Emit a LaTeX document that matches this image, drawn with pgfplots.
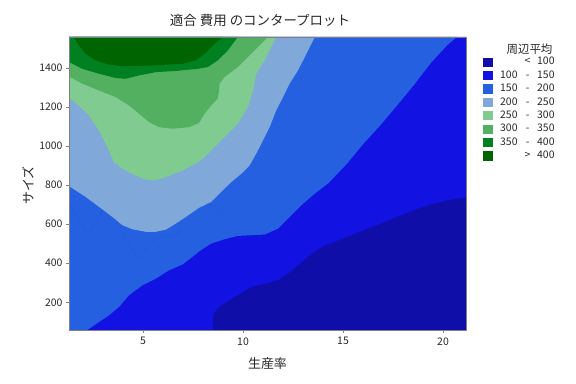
\documentclass[border=0pt]{standalone}
\usepackage{pgfplots}
\pgfplotsset{compat=1.18}
\usepackage{fontspec}
\setmainfont{Noto Sans CJK JP}
\definecolor{c0}{RGB}{16,14,168}
\definecolor{c1}{RGB}{18,18,226}
\definecolor{c2}{RGB}{36,96,224}
\definecolor{c3}{RGB}{128,168,216}
\definecolor{c4}{RGB}{128,204,144}
\definecolor{c5}{RGB}{82,176,96}
\definecolor{c6}{RGB}{0,128,32}
\definecolor{c7}{RGB}{0,100,0}
\definecolor{frame}{RGB}{128,128,128}
\definecolor{txt}{RGB}{40,40,40}
\newcommand{\lgent}[3]{\makebox[17bp][r]{#1}\makebox[20bp]{#2}\makebox[17bp][r]{#3}}
\begin{document}
\begin{tikzpicture}
\path[use as bounding box] (-69bp,-54bp) rectangle (507bp,330bp);
\begin{axis}[
  scale only axis, width=397bp, height=293bp,
  xmin=1.3, xmax=21.15, ymin=58, ymax=1559,
  axis on top,
  xtick={5,10,15,20}, ytick={200,400,600,800,1000,1200,1400},
  xtick pos=left, ytick pos=left,
  tick align=outside, major tick length=3bp,
  axis line style={draw=frame, line width=0.8bp},
  every tick/.style={draw=frame, line width=0.8bp},
  tick label style={font=\fontsize{10.5}{12}\selectfont, text=txt},
  xticklabel style={yshift=-1bp},
  yticklabel style={xshift=0bp},
  /pgf/number format/assume math mode=true,
  /pgf/number format/1000 sep={},
  legend style={draw=none, fill=none, at={(1,1)}, anchor=north west,
    xshift=17bp, yshift=-20.2bp, font=\fontsize{10.5}{12}\selectfont,
    text=txt, row sep=3.9bp, inner sep=0pt,
    nodes={inner sep=0pt, text height=7.6bp, text depth=1.9bp},
    /tikz/every odd column/.style={column sep=8bp}},
  legend cell align=left,
  legend image code/.code={\fill[#1] (0bp,-4.6bp) rectangle (9.4bp,4.6bp);},
]
\addplot[fill=c0, draw=none] coordinates {(1.3,58) (21.15,58) (21.15,1559) (1.3,1559)} -- cycle;
\addlegendentry{\lgent{}{<}{100}}
\addplot[fill=c1, draw=none] coordinates {(1.3,58) (8.49,58) (8.50,120) (8.58,150) (8.75,172) (8.91,185) (9.58,227) (10.41,279) (11.08,295) (11.75,313) (12.25,347) (12.75,390) (13.42,449) (14.09,492) (14.35,501) (15.19,535) (16.02,569) (16.86,603) (17.70,637) (18.53,672) (19.36,701) (20.20,723) (21.15,738) (21.15,1559) (1.3,1559)} -- cycle;
\addlegendentry{\lgent{100}{-}{150}}
\addplot[fill=c2, draw=none] coordinates {(1.3,58) (2.21,58) (2.80,99) (3.30,133) (3.80,176) (4.30,236) (4.97,287) (5.64,321) (6.30,364) (6.97,393) (7.47,432) (7.82,462) (8.41,501) (9.08,523) (9.74,540) (11.08,547) (11.75,577) (12.25,629) (12.92,697) (13.59,757) (14.25,808) (15.19,909) (16.02,1012) (16.86,1106) (17.70,1208) (18.53,1311) (19.36,1422) (20.20,1516) (20.70,1559) (1.3,1559)} -- cycle;
\addlegendentry{\lgent{150}{-}{200}}
\addplot[fill=c3, draw=none] coordinates {(1.3,795) (2.13,740) (2.80,689) (3.47,637) (3.97,595) (4.47,574) (5.14,561) (5.64,561) (6.14,572) (6.64,603) (7.14,637) (7.80,684) (8.41,714) (8.91,766) (9.41,815) (9.91,858) (10.33,901) (10.66,961) (11.0,1029) (11.33,1097) (11.66,1183) (12.0,1251) (12.33,1320) (12.75,1388) (13.17,1473) (13.59,1559) (1.3,1559)} -- cycle;
\addlegendentry{\lgent{200}{-}{250}}
\addplot[fill=c4, draw=none] coordinates {(1.3,1248) (1.79,1208) (2.29,1157) (2.80,1080) (3.22,995) (3.55,918) (3.97,884) (4.63,849) (5.14,829) (5.55,824) (6.14,841) (6.97,875) (7.70,914) (8.08,944) (8.58,995) (9.08,1046) (9.74,1114) (10.25,1200) (10.50,1285) (10.66,1371) (11.08,1439) (11.41,1508) (11.66,1559) (1.3,1559)} -- cycle;
\addlegendentry{\lgent{250}{-}{300}}
\addplot[fill=c5, draw=none] coordinates {(1.3,1357) (1.96,1320) (2.80,1285) (3.63,1251) (4.30,1208) (4.80,1166) (5.30,1123) (5.80,1097) (6.47,1089) (7.30,1097) (7.80,1118) (8.08,1166) (8.41,1208) (8.74,1243) (8.80,1280) (8.83,1320) (9.08,1354) (9.74,1405) (10.41,1473) (10.91,1525) (11.25,1559) (1.3,1559)} -- cycle;
\addlegendentry{\lgent{300}{-}{350}}
\addplot[fill=c6, draw=none] coordinates {(1.3,1431) (1.96,1396) (2.80,1371) (3.63,1349) (4.13,1345) (4.80,1362) (5.64,1379) (6.64,1385) (7.74,1396) (8.24,1405) (8.74,1439) (9.24,1490) (9.74,1559) (1.3,1559)} -- cycle;
\addlegendentry{\lgent{350}{-}{400}}
\addplot[fill=c7, draw=none] coordinates {(1.54,1559) (1.79,1516) (2.13,1473) (2.63,1439) (3.30,1418) (3.97,1410) (5.30,1412) (6.97,1422) (7.64,1439) (8.08,1473) (8.58,1525) (8.99,1559)} -- cycle;
\addlegendentry{\lgent{}{>}{400}}
\addplot[forget plot, draw=c2!80!black, line width=0.5bp, dotted] coordinates {(1.3,709) (2.24,548) (3.0,668)};
\addplot[forget plot, draw=c2!80!black, line width=0.5bp, dotted] coordinates {(3.6,628) (4.75,421) (5.55,526) (6.14,548) (6.47,535) (6.89,569)};
\addplot[forget plot, draw=c2!80!black, line width=0.5bp, dotted] coordinates {(8.2,704) (8.58,689) (9.74,544)};
\end{axis}
\node[text=txt, font=\fontsize{13.5}{16}\selectfont] at (191bp,310bp) {適合 費用 のコンタープロット};
\node[text=txt, font=\fontsize{13}{15}\selectfont] at (198.5bp,-34bp) {生産率};
\node[text=txt, font=\fontsize{13}{15}\selectfont, rotate=90] at (-41bp,144.5bp) {サイズ};
\node[text=txt, font=\fontsize{11.5}{13}\selectfont] at (460.5bp,281bp) {周辺平均};
\end{tikzpicture}
\end{document}
